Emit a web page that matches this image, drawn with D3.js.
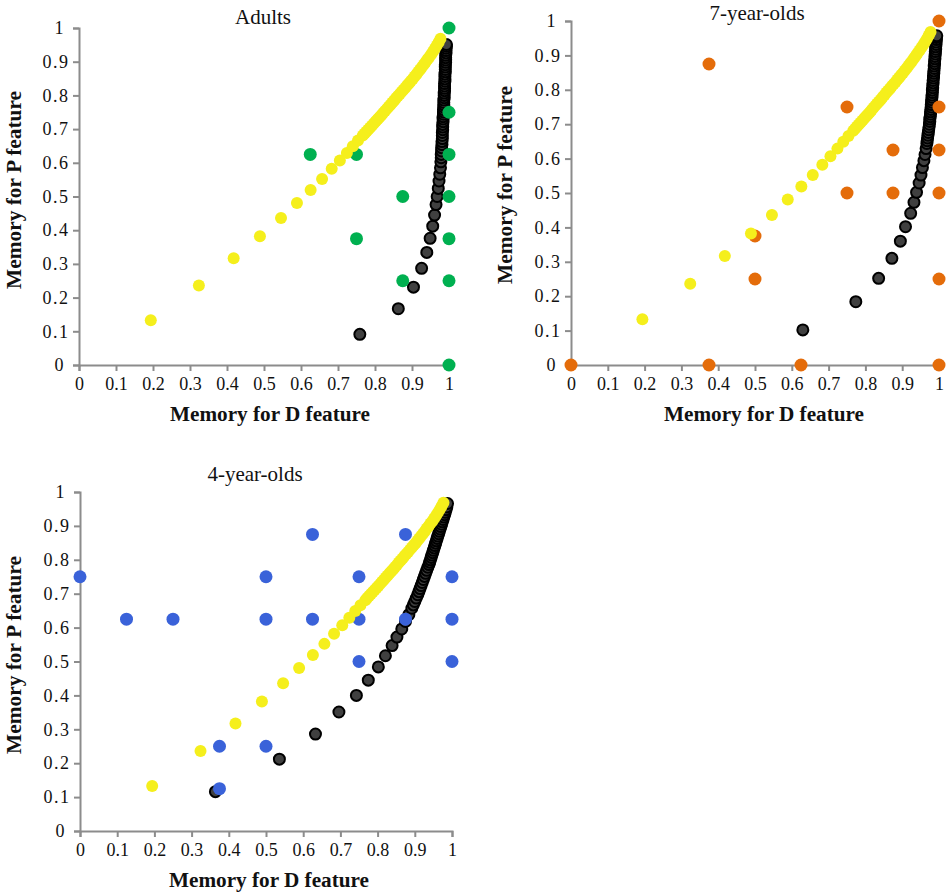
<!DOCTYPE html>
<html><head><meta charset="utf-8">
<script src="https://cdn.jsdelivr.net/npm/d3@7"></script>
<style>body{margin:0;background:#fff}svg{display:block}text{font-family:"Liberation Serif","Times New Roman",serif;fill:#111}</style>
</head><body><svg id="c" width="947" height="893"></svg>
<script>
const ticks = [0,0.1,0.2,0.3,0.4,0.5,0.6,0.7,0.8,0.9,1];
const panelTitles = ["Adults","7-year-olds","4-year-olds"];
const xLabel = "Memory for D feature";
const yLabel = "Memory for P feature";

// model curve (yellow), same in all panels
const modelAX = [0.194,0.324,0.418,0.489,0.546,0.589,0.626,0.657,0.683,0.705,0.724,0.740,0.754,
  0.767,0.772,0.777,0.782,0.787,0.792,0.797,0.802,0.807,0.812,0.817,0.822,0.827,0.832,0.837,0.842,0.847,0.852,0.857,0.862,0.867,0.872,0.877,0.882,0.887,0.892,0.897,0.902,0.907,0.912,0.917,0.922,0.927,0.932,0.937,0.942,0.947,0.952,0.957,0.962,0.967,0.972,0.977];
const modelAY = [0.133,0.236,0.317,0.382,0.436,0.481,0.519,0.552,0.582,0.607,0.629,0.649,0.666,
  0.681,0.687,0.693,0.699,0.705,0.711,0.717,0.723,0.729,0.735,0.741,0.748,0.754,0.760,0.766,0.772,0.779,0.785,0.792,0.798,0.804,0.811,0.817,0.823,0.830,0.836,0.843,0.849,0.856,0.863,0.870,0.877,0.884,0.892,0.899,0.907,0.914,0.922,0.930,0.939,0.948,0.958,0.968];

// model curve (black), per panel
const adultBX = [0.759,0.863,0.904,0.926,0.940,0.949,0.956,0.961,0.965,0.968,0.971,0.973,0.975,0.977,0.978,
  0.979,0.979,0.980,0.980,0.981,0.981,0.982,0.982,0.982,0.983,0.983,0.983,0.984,0.984,0.984,0.985,0.985,0.985,0.986,0.986,
  0.986,0.986,0.987,0.987,0.987,0.988,0.988,0.988,0.988,0.989,0.989,0.989,0.989,0.990,0.990,0.990,0.990,0.991,0.991,0.991,
  0.991,0.992,0.992,0.992,0.993,0.993];
const adultBY = [0.091,0.167,0.231,0.287,0.334,0.376,0.412,0.445,0.476,0.500,0.524,0.546,0.566,0.585,0.603,
  0.615,0.625,0.635,0.645,0.654,0.663,0.672,0.681,0.690,0.698,0.706,0.714,0.722,0.730,0.737,0.744,0.751,0.758,0.765,0.772,
  0.779,0.786,0.793,0.800,0.807,0.814,0.821,0.828,0.835,0.842,0.849,0.856,0.863,0.870,0.877,0.884,0.891,0.898,0.905,0.912,
  0.919,0.926,0.933,0.940,0.946,0.951];
const sevenBX = [0.630,0.774,0.836,0.872,0.895,0.909,0.923,0.932,0.939,0.946,0.951,0.955,0.959,0.962,0.965,0.967,
  0.968,0.969,0.970,0.971,0.972,0.973,0.974,0.975,0.975,0.976,0.977,0.977,0.978,0.979,0.979,0.980,0.980,0.981,0.981,0.982,
  0.982,0.983,0.983,0.984,0.984,0.985,0.985,0.986,0.986,0.987,0.987,0.988,0.988,0.989,0.989,0.990,0.990,0.991,0.991,0.992,
  0.992,0.993,0.993,0.994];
const sevenBY = [0.102,0.184,0.252,0.310,0.360,0.402,0.441,0.473,0.502,0.529,0.552,0.574,0.594,0.612,0.629,0.644,
  0.652,0.660,0.668,0.676,0.684,0.692,0.700,0.708,0.715,0.722,0.729,0.736,0.743,0.750,0.757,0.764,0.771,0.778,0.785,0.792,
  0.799,0.806,0.813,0.820,0.827,0.834,0.841,0.848,0.855,0.862,0.869,0.876,0.883,0.890,0.897,0.904,0.911,0.918,0.925,0.932,
  0.939,0.946,0.952,0.957];
const fourBX = [0.364,0.536,0.633,0.696,0.743,0.775,0.802,0.821,0.839,0.852,0.865,0.875,0.884,0.892,
  0.896,0.900,0.904,0.908,0.911,0.914,0.917,0.920,0.923,0.926,0.929,0.932,0.935,0.938,0.940,0.942,0.944,0.946,0.948,0.950,
  0.952,0.954,0.956,0.958,0.960,0.962,0.964,0.966,0.968,0.970,0.972,0.974,0.976,0.978,0.980,0.982,0.984,0.986,0.988];
const fourBY = [0.116,0.212,0.286,0.351,0.400,0.445,0.484,0.517,0.547,0.572,0.596,0.618,0.638,0.657,
  0.667,0.677,0.687,0.697,0.706,0.715,0.724,0.733,0.742,0.751,0.760,0.769,0.778,0.786,0.793,0.800,0.807,0.814,0.821,0.828,
  0.835,0.842,0.849,0.856,0.863,0.870,0.877,0.884,0.891,0.898,0.905,0.912,0.919,0.926,0.933,0.940,0.948,0.956,0.966];

// observed data
const adultX = [0.625,0.75,0.75,0.875,0.875,1,1,1,1,1,1,1];
const adultY = [0.625,0.625,0.375,0.5,0.25,1,0.75,0.625,0.5,0.375,0.25,0];
const sevenX = [0,0.375,0.375,0.5,0.5,0.625,0.75,0.75,0.875,0.875,1,1,1,1,1,1];
const sevenY = [0,0.875,0,0.375,0.25,0,0.75,0.5,0.625,0.5,1,0.75,0.625,0.5,0.25,0];
const fourX = [0,0.125,0.25,0.375,0.375,0.5,0.5,0.5,0.625,0.625,0.75,0.75,0.75,0.875,0.875,1,1,1];
const fourY = [0.75,0.625,0.625,0.25,0.125,0.75,0.625,0.25,0.875,0.625,0.75,0.625,0.5,0.875,0.625,0.75,0.625,0.5];

const zip = (a,b) => a.map((v,i)=>[v,b[i]]);
const panels = [
  {title:panelTitles[0], x0:79, x1:449, y0:365, y1:28, data:zip(adultX,adultY), color:"#00b050", black:zip(adultBX,adultBY), tx:263, ty:24, ylx:21, yly:190, xlx:270, xly:421},
  {title:panelTitles[1], x0:571, x1:939, y0:365, y1:21, data:zip(sevenX,sevenY), color:"#e46c0a", black:zip(sevenBX,sevenBY), tx:757, ty:20, ylx:512, yly:185, xlx:764, xly:421},
  {title:panelTitles[2], x0:80, x1:452, y0:831, y1:492, data:zip(fourX,fourY), color:"#3a62d9", black:zip(fourBX,fourBY), tx:255, ty:481, ylx:21, yly:655, xlx:269, xly:887}
];
const yellow = zip(modelAX, modelAY);
const svg = d3.select("#c");
const fmt = d => String(d);

panels.forEach(p => {
  const x = d3.scaleLinear().domain([0,1]).range([p.x0,p.x1]);
  const y = d3.scaleLinear().domain([0,1]).range([p.y0,p.y1]);
  const g = svg.append("g");
  const xa = g.append("g").attr("transform",`translate(0,${p.y0})`)
    .call(d3.axisBottom(x).tickValues(ticks).tickFormat(fmt).tickSize(6).tickPadding(4));
  const ya = g.append("g").attr("transform",`translate(${p.x0},0)`)
    .call(d3.axisLeft(y).tickValues(ticks).tickFormat(fmt).tickSize(6).tickPadding(8));
  [xa,ya].forEach(a => {
    a.selectAll("path").attr("stroke","#8c8c8c").attr("stroke-width",2);
    a.selectAll("line").attr("stroke","#8c8c8c").attr("stroke-width",2);
    a.selectAll("text").style("font-family","Liberation Serif").style("font-size","18px").attr("fill","#111");
  });
  xa.selectAll("text").attr("dy","0.85em");
  ya.selectAll("text").attr("text-anchor","middle")
    .attr("x", d => (d===0||d===1) ? -20 : -23)
    .style("letter-spacing", d => (d===0||d===1) ? "0px" : "1.5px");
  // black model points
  g.append("g").selectAll("circle").data(p.black).join("circle")
    .attr("cx",d=>x(d[0])).attr("cy",d=>y(d[1])).attr("r",5.5)
    .attr("fill","#404040").attr("stroke","#000").attr("stroke-width",2);
  // observed points
  g.append("g").selectAll("circle").data(p.data).join("circle")
    .attr("cx",d=>x(d[0])).attr("cy",d=>y(d[1])).attr("r",6.5)
    .attr("fill",p.color);
  // yellow model points
  g.append("g").selectAll("circle").data(yellow).join("circle")
    .attr("cx",d=>x(d[0])).attr("cy",d=>y(d[1])).attr("r",6)
    .attr("fill","#f5ef1c");
  g.append("text").attr("x",p.tx).attr("y",p.ty).attr("text-anchor","middle")
    .style("font-size","21px").text(p.title);
  g.append("text").attr("x",p.xlx).attr("y",p.xly).attr("text-anchor","middle")
    .style("font-size","20px").style("font-weight","bold")
    .attr("textLength",200).attr("lengthAdjust","spacingAndGlyphs").text(xLabel);
  g.append("text").attr("transform",`translate(${p.ylx},${p.yly}) rotate(-90)`).attr("text-anchor","middle")
    .style("font-size","20px").style("font-weight","bold")
    .attr("textLength",198).attr("lengthAdjust","spacingAndGlyphs").text(yLabel);
});
</script></body></html>
